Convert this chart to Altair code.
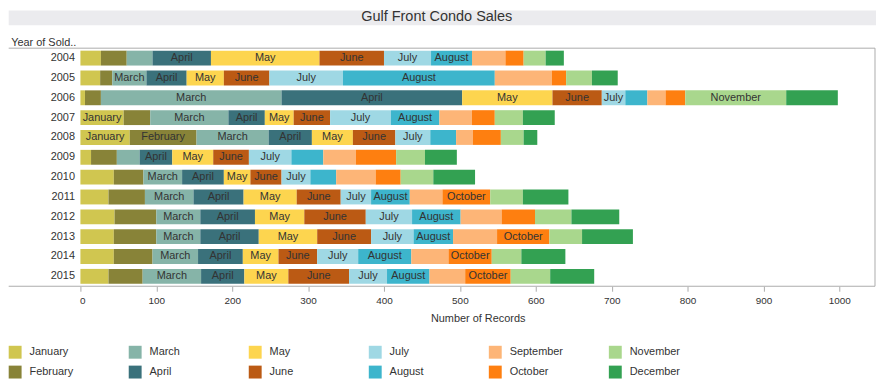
import altair as alt
import pandas as pd

TITLE = "Gulf Front Condo Sales"
MONTHS = ["January", "February", "March", "April", "May", "June",
          "July", "August", "September", "October", "November", "December"]
YEARS = ["2004", "2005", "2006", "2007", "2008", "2009",
         "2010", "2011", "2012", "2013", "2014", "2015"]

# Number of records per month, per year (Jan..Dec)
C2004 = [27, 34, 34, 77, 143, 85, 62, 54, 44, 24, 29, 24]
C2005 = [26, 16, 45, 53, 49, 60, 97, 200, 75, 19, 34, 34]
C2006 = [6, 21, 238, 238, 119, 65, 31, 29, 24, 26, 133, 68]
C2007 = [57, 35, 103, 48, 38, 48, 80, 64, 43, 30, 37, 42]
C2008 = [65, 88, 95, 57, 54, 56, 46, 34, 22, 37, 30, 18]
C2009 = [14, 34, 30, 43, 54, 47, 56, 42, 43, 53, 38, 42]
C2010 = [44, 39, 51, 55, 35, 41, 38, 34, 52, 33, 43, 55]
C2011 = [37, 48, 64, 66, 70, 58, 40, 51, 43, 63, 43, 60]
C2012 = [45, 55, 58, 72, 65, 81, 61, 64, 54, 44, 48, 63]
C2013 = [44, 56, 58, 77, 77, 71, 56, 52, 58, 69, 43, 67]
C2014 = [44, 51, 60, 59, 47, 51, 54, 70, 49, 57, 39, 58]
C2015 = [37, 45, 77, 57, 58, 80, 50, 56, 47, 60, 52, 58]
COUNTS = [C2004, C2005, C2006, C2007, C2008, C2009,
          C2010, C2011, C2012, C2013, C2014, C2015]

# Months whose segment carries a text label in each year
CORE = ["March", "April", "May", "June", "July"]
LABELED = [
    ["April", "May", "June", "July", "August"],
    CORE + ["August"],
    CORE + ["November"],
    ["January"] + CORE + ["August"],
    ["January", "February"] + CORE,
    ["April", "May", "June", "July"],
    CORE,
    CORE + ["August", "October"],
    CORE + ["August"],
    CORE + ["August", "October"],
    CORE + ["August", "October"],
    CORE + ["August", "October"],
]

COLORS = ["#d0c650", "#888338", "#86b4a8", "#3a717b", "#fdd54f", "#bb5a14",
          "#9fd8e4", "#3db5cc", "#fdb577", "#fe7f10", "#a9d78d", "#33a152"]

rows = []
for year, counts, labeled in zip(YEARS, COUNTS, LABELED):
    start = 0
    for i, (m, v) in enumerate(zip(MONTHS, counts)):
        rows.append({"year": year, "month": m, "idx": i, "count": v,
                     "start": start, "end": start + v, "mid": start + v / 2,
                     "label": m if m in labeled else ""})
        start += v
df = pd.DataFrame(rows)

W = 801
H = 240
XMAX = 1047
LEFT = 72.3
FONT = "Liberation Sans"
GRAY = "#ababab"
TXT = "#333333"

xscale = alt.Scale(domain=[0, XMAX], nice=False, zero=True)
xaxis = alt.Axis(values=list(range(0, 1001, 100)), title="Number of Records",
                 domain=False, grid=False, ticks=True, tickSize=5, tickColor=GRAY,
                 labelFontSize=10, labelColor=TXT, labelPadding=4, labelFlush=True,
                 labelFlushOffset=1, titleFontSize=11, titleFontWeight="normal",
                 titleColor=TXT, titlePadding=8, format="d")
yscale = alt.Scale(paddingInner=0.25, paddingOuter=0.125)
yaxis = alt.Axis(title="Year of Sold..", domain=False, ticks=False, grid=False,
                 labelFontSize=11, labelColor=TXT, labelPadding=6,
                 titleAngle=0, titleAlign="left", titleBaseline="alphabetic",
                 titleX=-70.3, titleY=-2.5, titleFontSize=11,
                 titleFontWeight="normal", titleColor=TXT)

Y = alt.Y("year:N", sort=YEARS, scale=yscale, axis=yaxis)

bars = alt.Chart(df).mark_bar().encode(
    x=alt.X("start:Q", scale=xscale, axis=xaxis),
    x2="end:Q",
    y=Y,
    color=alt.Color("month:N",
                    scale=alt.Scale(domain=MONTHS, range=COLORS),
                    legend=alt.Legend(orient="none", legendX=-LEFT, legendY=300,
                                      title=None, columns=6, gridAlign="all",
                                      columnPadding=46, rowPadding=7,
                                      symbolType="square", symbolSize=169,
                                      symbolStrokeWidth=0, symbolOpacity=1,
                                      labelFontSize=11, labelColor=TXT,
                                      labelOffset=8, labelLimit=200, padding=0)),
)

labels = alt.Chart(df).transform_filter("datum.label != ''").mark_text(
    fontSize=11, color=TXT, align="center", baseline="middle", font=FONT
).encode(
    x=alt.X("mid:Q", scale=xscale, axis=xaxis),
    y=Y,
    text="label:N",
)

one = pd.DataFrame({"k": [0]})
band = alt.Chart(one).mark_rect(color="#ebebee").encode(
    x=alt.value(-LEFT), x2=alt.value(W + 1), y=alt.value(-38), y2=alt.value(-23))
title = alt.Chart(one).mark_text(
    text=TITLE, fontSize=14.6, color=TXT, align="center", baseline="alphabetic", font=FONT
).encode(x=alt.value(359.2), y=alt.value(-27))
top_rule = alt.Chart(one).mark_rule(color=GRAY, strokeWidth=1).encode(
    x=alt.value(-LEFT), x2=alt.value(W), y=alt.value(0))
bottom_rule = alt.Chart(one).mark_rule(color=GRAY, strokeWidth=1).encode(
    x=alt.value(-LEFT), x2=alt.value(W), y=alt.value(H))
right_rule = alt.Chart(one).mark_rule(color=GRAY, strokeWidth=1).encode(
    x=alt.value(W), y=alt.value(0), y2=alt.value(H))

chart = alt.layer(band, title, bars, labels, top_rule, bottom_rule, right_rule).properties(
    width=W, height=H,
    padding={"left": 0, "top": 0, "right": 0, "bottom": 2},
).configure(font=FONT).configure_view(stroke=None)

chart.save("out.html", embed_options={"renderer": "svg", "actions": False})
